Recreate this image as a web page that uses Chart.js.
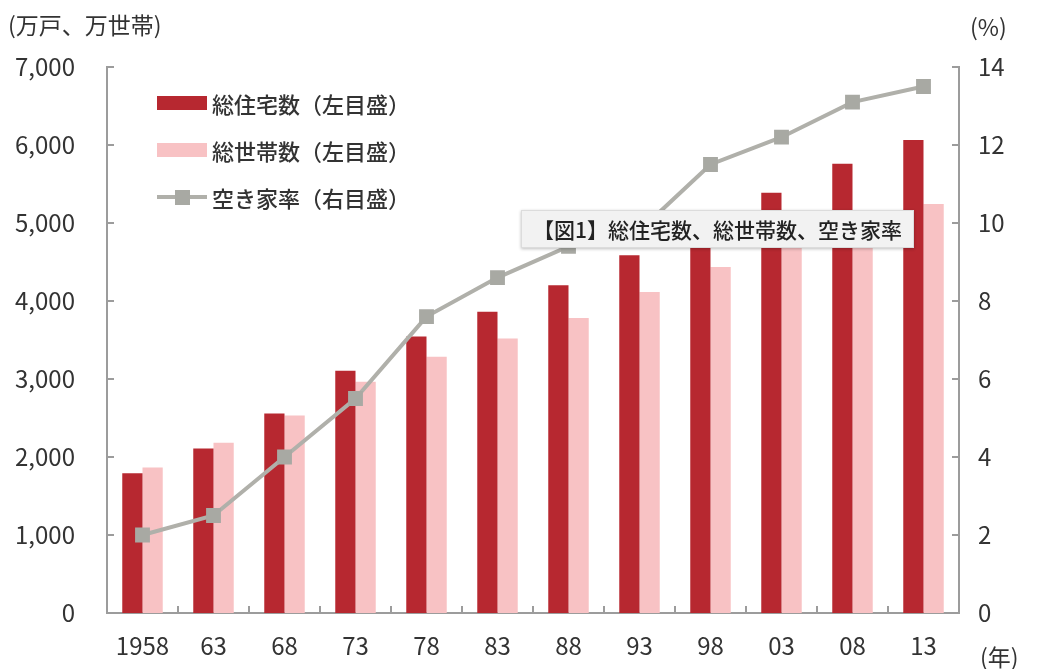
<!DOCTYPE html>
<html lang="ja">
<head>
<meta charset="utf-8">
<script src="https://cdn.jsdelivr.net/npm/chart.js@4"></script>
<style>
  html, body { margin: 0; padding: 0; background: #fff; }
  #wrap { position: relative; width: 1038px; height: 669px; font-family: "Noto Sans CJK JP", sans-serif; color: #333; }
  canvas { position: absolute; left: 0; top: 0; }
  .unit { position: absolute; font-size: 23px; line-height: 1; white-space: nowrap; }
  .legend { position: absolute; left: 157px; top: 88px; font-size: 22px; line-height: 1; font-weight: 500; }
  .legend .row { display: flex; align-items: center; height: 30px; margin-bottom: 17px; }
  .legend .sw { width: 50px; height: 14px; margin-right: 5px; position: relative; }
  .legend .ln { background: none; }
  .legend .ln::before { content: ""; position: absolute; left: 0; right: 0; top: 5px; height: 4px; background: #b0b0aa; }
  .legend .ln::after { content: ""; position: absolute; left: 18px; top: 0; width: 15px; height: 15px; background: #a8a9a3; }
  .note { position: absolute; left: 521px; top: 210px; width: 391px; height: 36px; background: #f2f2f2;
          border: 1px solid #dcdcdc; box-shadow: 0 1px 3px rgba(0,0,0,0.25);
          font-size: 21px; font-weight: 500; line-height: 36px; text-align: center; color: #222; white-space: nowrap; }
</style>
</head>
<body>
<div id="wrap">
  <canvas id="housingChart" width="1038" height="669"></canvas>
  <div class="unit" style="left:8px; top:13px;">(万戸、万世帯)</div>
  <div class="unit" style="left:970px; top:15px;">(%)</div>
  <div class="unit" style="left:980px; top:645px;">(年)</div>
  <div class="legend">
    <div class="row"><span class="sw" style="background:#b72830"></span>総住宅数（左目盛）</div>
    <div class="row"><span class="sw" style="background:#f8c2c4"></span>総世帯数（左目盛）</div>
    <div class="row"><span class="sw ln"></span>空き家率（右目盛）</div>
  </div>
  <div class="note">【図1】総住宅数、総世帯数、空き家率</div>
</div>
<script>
const years = ['1958', '63', '68', '73', '78', '83', '88', '93', '98', '03', '08', '13'];
const totalHousing = [1793, 2109, 2559, 3106, 3545, 3861, 4201, 4588, 5025, 5389, 5759, 6063];
const totalHouseholds = [1865, 2182, 2532, 2965, 3284, 3520, 3781, 4116, 4436, 4726, 4997, 5245];
const vacancyRate = [2.0, 2.5, 4.0, 5.5, 7.6, 8.6, 9.4, 9.8, 11.5, 12.2, 13.1, 13.5];
const leftTicks = [0, 1000, 2000, 3000, 4000, 5000, 6000, 7000];
const rightTicks = [0, 2, 4, 6, 8, 10, 12, 14];

const axisColor = '#9c9c9c';
const tickFont = { family: '"Noto Sans CJK JP", sans-serif', size: 24 };

// short tick marks pointing into the plot area
const innerTicks = {
  id: 'innerTicks',
  afterDatasetsDraw(chart) {
    const { ctx, chartArea, scales } = chart;
    ctx.save();
    ctx.strokeStyle = axisColor;
    ctx.lineWidth = 2;
    ctx.beginPath();
    leftTicks.forEach(v => {
      const y = scales.y.getPixelForValue(v);
      ctx.moveTo(chartArea.left, y);
      ctx.lineTo(chartArea.left + 7, y);
    });
    rightTicks.forEach(v => {
      const y = scales.y1.getPixelForValue(v);
      ctx.moveTo(chartArea.right, y);
      ctx.lineTo(chartArea.right - 7, y);
    });
    for (let i = 1; i < years.length; i++) {
      const x = (scales.x.getPixelForValue(i - 1) + scales.x.getPixelForValue(i)) / 2;
      ctx.moveTo(x, chartArea.bottom);
      ctx.lineTo(x, chartArea.bottom - 7);
    }
    ctx.stroke();
    ctx.restore();
  }
};

new Chart(document.getElementById('housingChart'), {
  type: 'bar',
  data: {
    labels: years,
    datasets: [
      {
        type: 'line',
        label: '空き家率（右目盛）',
        data: vacancyRate,
        yAxisID: 'y1',
        borderColor: '#b0b0aa',
        borderWidth: 4,
        pointStyle: 'rect',
        pointRadius: 10.5,
        pointBackgroundColor: '#a8a9a3',
        pointBorderWidth: 0,
        tension: 0,
        order: 0
      },
      {
        label: '総住宅数（左目盛）',
        data: totalHousing,
        yAxisID: 'y',
        backgroundColor: '#b72830',
        categoryPercentage: 0.57,
        barPercentage: 1.0,
        order: 1
      },
      {
        label: '総世帯数（左目盛）',
        data: totalHouseholds,
        yAxisID: 'y',
        backgroundColor: '#f8c2c4',
        categoryPercentage: 0.57,
        barPercentage: 1.0,
        order: 1
      }
    ]
  },
  options: {
    responsive: false,
    animation: false,
    layout: { padding: { top: 67, left: 0, right: 0, bottom: 0 } },
    plugins: { legend: { display: false }, tooltip: { enabled: false } },
    scales: {
      x: {
        afterFit: s => { s.height = 56; },
        grid: { display: false, drawTicks: false },
        border: { display: true, color: axisColor, width: 2 },
        ticks: { color: '#333', font: tickFont, padding: 18, maxRotation: 0, autoSkip: false }
      },
      y: {
        position: 'left',
        min: 0,
        max: 7000,
        afterFit: s => { s.width = 107; },
        afterBuildTicks: s => { s.ticks = leftTicks.map(v => ({ value: v })); },
        grid: { display: false, drawTicks: false },
        border: { display: true, color: axisColor, width: 2 },
        ticks: { color: '#333', font: tickFont, padding: 32, callback: v => v.toLocaleString('en-US') }
      },
      y1: {
        position: 'right',
        min: 0,
        max: 14,
        afterFit: s => { s.width = 79; },
        afterBuildTicks: s => { s.ticks = rightTicks.map(v => ({ value: v })); },
        grid: { display: false, drawTicks: false },
        border: { display: true, color: axisColor, width: 2 },
        ticks: { color: '#333', font: tickFont, padding: 19 }
      }
    }
  },
  plugins: [innerTicks]
});
</script>
</body>
</html>
